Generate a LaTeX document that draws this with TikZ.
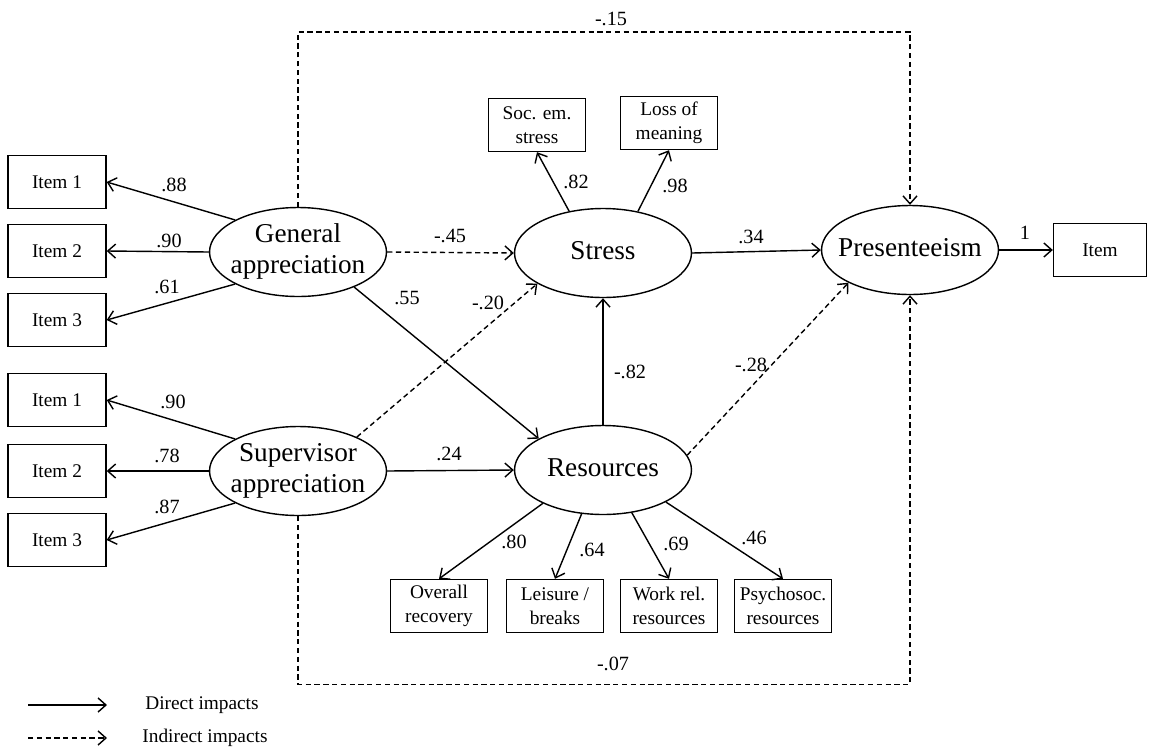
\documentclass[tikz,border=0pt]{standalone}
\usepackage{fontspec}
\setmainfont{Liberation Serif}
\usetikzlibrary{positioning}
\usetikzlibrary{shapes.geometric}
\usetikzlibrary{arrows.meta}

\newcommand{\lvtext}[1]{\makebox[0pt]{\begin{tabular}{@{}c@{}}#1\end{tabular}}}

\tikzset{
 latent/.style={draw,ellipse,minimum width=3.54cm,minimum height=1.78cm,inner sep=0pt,line width=0.8pt,font=\fontsize{15.5}{17.5}\selectfont},
 itembox/.style={draw,rectangle,minimum width=1.96cm,minimum height=1.06cm,inner sep=0pt,line width=0.8pt,font=\fontsize{11}{13}\selectfont},
 indbox/.style={draw,rectangle,minimum width=1.94cm,minimum height=1.06cm,inner sep=0pt,line width=0.8pt,align=center,font=\fontsize{11}{13.5}\selectfont},
 coef/.style={font=\fontsize{11.5}{13}\selectfont},
 direct/.style={-{Straight Barb[length=4.5pt,width=8pt]},line width=0.8pt},
 indirect/.style={-{Straight Barb[length=4.5pt,width=8pt]},line width=0.8pt,dash pattern=on 3pt off 2pt}
}

\begin{document}
\begin{tikzpicture}[x=0.02cm,y=-0.02cm]
 \useasboundingbox (0,0) rectangle (1149,751);

 \node[latent] (gen) at (298,252) {\lvtext{General\\appreciation}};
 \node[latent] (sup) at (298,471) {\lvtext{Supervisor\\appreciation}};
 \node[latent] (stress) at (603,253) {\lvtext{Stress}};
 \node[latent] (res) at (603,470) {\lvtext{Resources}};
 \node[latent] (pres) at (910,250) {\lvtext{Presenteeism}};

 \node[itembox] (g1) at (57,182) {Item 1};
 \node[itembox] (g2) at (57,251) {Item 2};
 \node[itembox] (g3) at (57,320) {Item 3};
 \node[itembox] (s1) at (57,400) {Item 1};
 \node[itembox] (s2) at (57,471) {Item 2};
 \node[itembox] (s3) at (57,540) {Item 3};
 \node[itembox,minimum width=1.86cm] (pitem) at (1100,250) {Item};

 \node[indbox] (soc) at (537,125) {Soc. em.\\stress};
 \node[indbox] (loss) at (669,123) {Loss of\\meaning};
 \node[indbox] (over) at (439,606) {Overall\\recovery};
 \node[indbox] (leis) at (555,606) {Leisure /\\breaks};
 \node[indbox] (work) at (669,606) {Work rel.\\resources};
 \node[indbox] (psy) at (783,606) {Psychosoc.\\resources};

 \draw[direct] (gen.153) -- (g1.east);
 \draw[direct] (gen.180) -- (g2.east);
 \draw[direct] (gen.207) -- (g3.east);
 \draw[direct] (sup.153) -- (s1.east);
 \draw[direct] (sup.180) -- (s2.east);
 \draw[direct] (sup.207) -- (s3.east);

 \draw[indirect] (gen.east) -- (stress.west);
 \draw[indirect] (sup.30) -- (stress.205);
 \draw[direct] (gen.328) -- (res.154);
 \draw[direct] (sup.east) -- (res.west);
 \draw[direct] (res.north) -- (stress.south);
 \draw[direct] (stress.east) -- (pres.west);
 \draw[indirect] (res.10) -- (pres.208);
 \draw[direct] (pres.east) -- (pitem.west);

 \draw[direct] (stress.129) -- (soc.south);
 \draw[direct] (stress.50) -- (loss.south);
 \draw[direct] (res.209) -- (over.north);
 \draw[direct] (res.244) -- (leis.north);
 \draw[direct] (res.304) -- (work.north);
 \draw[direct] (res.333) -- (psy.north);

 \draw[indirect] (gen.north) -- ++(0,-175) -| (pres.north);
 \draw[indirect] (sup.south) -- ++(0,168) -| (pres.south);

 \node[coef] (c1) at (174,185) {.88};
 \node[coef] (c2) at (169,241) {.90};
 \node[coef] (c3) at (167,287) {.61};
 \node[coef] (c4) at (173,402) {.90};
 \node[coef] (c5) at (167,456) {.78};
 \node[coef] (c6) at (167,507) {.87};
 \node[coef] (c7) at (450,236) {-.45};
 \node[coef] (c8) at (576,182) {.82};
 \node[coef] (c9) at (675,186) {.98};
 \node[coef] (c10) at (751,237) {.34};
 \node[coef] (c11) at (407,298) {.55};
 \node[coef] (c12) at (488,303) {-.20};
 \node[coef] (c13) at (630,372) {-.82};
 \node[coef] (c14) at (751,365) {-.28};
 \node[coef] (c15) at (449,454) {.24};
 \node[coef] (c16) at (1025,233) {1};
 \node[coef] (c17) at (514,542) {.80};
 \node[coef] (c18) at (592,550) {.64};
 \node[coef] (c19) at (676,544) {.69};
 \node[coef] (c20) at (754,538) {.46};
 \node[coef] (c21) at (611,19) {-.15};
 \node[coef] (c22) at (613,664) {-.07};

 \coordinate (d1) at (28,705);
 \coordinate (d2) at (107,705);
 \coordinate (i1) at (28,738);
 \coordinate (i2) at (107,738);
 \draw[direct] (d1) -- (d2);
 \draw[indirect] (i1) -- (i2);
 \node[coef,font=\fontsize{11}{13}\selectfont] (dtext) at (202,705) {Direct impacts};
 \node[coef,font=\fontsize{11}{13}\selectfont] (itext) at (205,738) {Indirect impacts};
\end{tikzpicture}
\end{document}
